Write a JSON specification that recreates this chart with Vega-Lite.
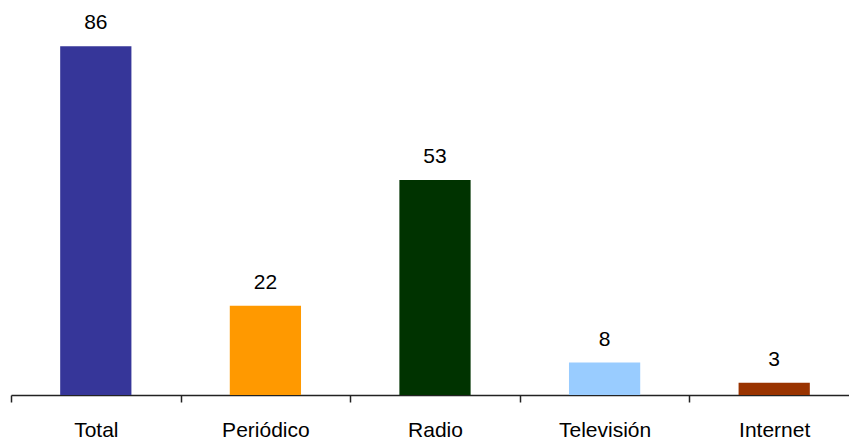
{
  "$schema": "https://vega.github.io/schema/vega-lite/v6.json",
  "autosize": "none",
  "width": 838,
  "height": 365,
  "padding": {"left": 11, "top": 30, "right": 0, "bottom": 46},
  "background": "white",
  "config": {
    "view": {"stroke": null},
    "font": "Liberation Sans"
  },
  "data": {
    "values": [
      {"medio": "Total", "valor": 86},
      {"medio": "Periódico", "valor": 22},
      {"medio": "Radio", "valor": 53},
      {"medio": "Televisión", "valor": 8},
      {"medio": "Internet", "valor": 3}
    ]
  },
  "encoding": {
    "x": {
      "field": "medio",
      "type": "nominal",
      "sort": null,
      "scale": {"range": [0, 848], "paddingInner": 0, "paddingOuter": 0},
      "axis": {
        "title": null,
        "labelAngle": 0,
        "labelFont": "Liberation Sans",
        "labelFontSize": 21,
        "labelColor": "#000000",
        "labelBaseline": "alphabetic",
        "labelPadding": 34,
        "tickBand": "extent",
        "tickSize": 7,
        "tickColor": "#222222",
        "tickWidth": 1.5,
        "domainColor": "#222222",
        "domainWidth": 1.5,
        "grid": false
      }
    },
    "y": {
      "field": "valor",
      "type": "quantitative",
      "scale": {"domain": [0, 90]},
      "axis": null
    }
  },
  "layer": [
    {
      "mark": {"type": "bar", "width": {"band": 0.42}},
      "encoding": {
        "color": {
          "field": "medio",
          "type": "nominal",
          "scale": {
            "domain": ["Total", "Periódico", "Radio", "Televisión", "Internet"],
            "range": ["#363699", "#FF9900", "#003300", "#99CCFF", "#993300"]
          },
          "legend": null
        }
      }
    },
    {
      "mark": {"type": "text", "baseline": "alphabetic", "dy": -17, "fontSize": 21, "font": "Liberation Sans", "color": "#000000"},
      "encoding": {
        "text": {"field": "valor", "type": "quantitative"}
      }
    }
  ]
}
